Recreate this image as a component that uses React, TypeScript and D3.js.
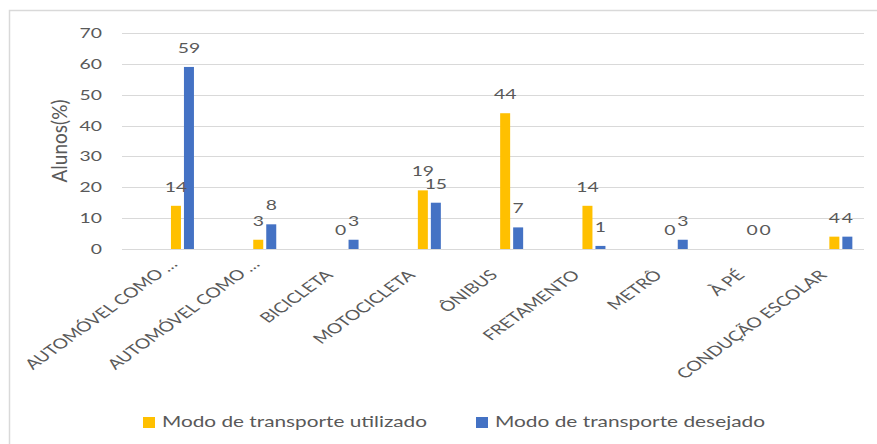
import React from "react";
import * as d3 from "d3";

const categories = [
  "AUTOMÓVEL COMO …",
  "AUTOMÓVEL COMO …",
  "BICICLETA",
  "MOTOCICLETA",
  "ÔNIBUS",
  "FRETAMENTO",
  "METRÔ",
  "À PÉ",
  "CONDUÇÃO ESCOLAR",
];
const utilizado = [14, 3, 0, 19, 44, 14, 0, 0, 4];
const desejado = [59, 8, 3, 15, 7, 1, 3, 0, 4];
const yTicks = [0, 10, 20, 30, 40, 50, 60, 70];
const seriesNames = ["Modo de transporte utilizado", "Modo de transporte desejado"];
const seriesColors = ["#FFC000", "#4472C4"];

const W = 877;
const H = 444;
const SX = 1.38; // horizontal stretch of the reference rendering
const FONT = "Lato, 'Open Sans', sans-serif";
const TXT = "#595959";
const GRID = "#d9d9d9";

export default function App() {
  const y = d3.scaleLinear().domain([0, 70]).range([249, 33]);
  const x = d3.scaleBand<number>().domain(d3.range(categories.length)).range([141.3, 882]).padding(0);
  const gridX0 = 122;
  const gridX1 = 864;
  const barW = 10;
  const gap = 3;
  const series = [utilizado, desejado];

  return (
    <svg width={W} height={H} style={{ position: "absolute", left: 0, top: 0, background: "#fff" }} fontFamily={FONT}>
      <rect x={0} y={0} width={W} height={H} fill="#fff" />
      {/* chart frame */}
      <rect x={9.5} y={10.5} width={W + 20} height={H + 20} fill="none" stroke={GRID} strokeWidth={1.5} />
      {/* gridlines */}
      {yTicks.map((t) => (
        <line key={t} x1={gridX0} x2={gridX1} y1={Math.round(y(t)) + 0.5} y2={Math.round(y(t)) + 0.5} stroke={GRID} strokeWidth={1} />
      ))}
      {/* y tick labels */}
      {yTicks.map((t) => (
        <text key={"t" + t} transform={`translate(102,${y(t) + 5}) scale(${SX},1)`} textAnchor="end" fontSize={14} fill={TXT}>
          {t}
        </text>
      ))}
      {/* y title */}
      <text transform={`translate(67,141) scale(${SX},1) rotate(-90)`} textAnchor="middle" fontSize={15} fill={TXT} textLength={83} lengthAdjust="spacingAndGlyphs">
        Alunos(%)
      </text>
      {/* bars */}
      {series.map((s, si) =>
        s.map((v, i) => {
          const c = (x(i) as number) + x.bandwidth() / 2;
          const bx = si === 0 ? c - gap / 2 - barW : c + gap / 2;
          return <rect key={si + "-" + i} x={bx} y={y(v)} width={barW} height={y(0) - y(v)} fill={seriesColors[si]} />;
        })
      )}
      {/* data labels */}
      {series.map((s, si) =>
        s.map((v, i) => {
          const c = (x(i) as number) + x.bandwidth() / 2;
          const lx = si === 0 ? c - gap / 2 - barW / 2 : c + gap / 2 + barW / 2;
          return (
            <text key={"l" + si + "-" + i} transform={`translate(${lx},${y(v) - 14}) scale(${SX},1)`} textAnchor="middle" fontSize={14} fill={TXT}>
              {v}
            </text>
          );
        })
      )}
      {/* category labels */}
      {categories.map((cat, i) => {
        const c = (x(i) as number) + x.bandwidth() / 2;
        const truncated = cat.endsWith("…");
        const px = truncated ? c - 4 : c - 13;
        const py = truncated ? 265 : 276;
        return (
          <text key={"c" + i} transform={`translate(${px},${py}) scale(${SX},1) rotate(-45)`} textAnchor="end" fontSize={14} fill={TXT}>
            {cat}
          </text>
        );
      })}
      {/* legend */}
      <rect x={143} y={417} width={12} height={11} fill={seriesColors[0]} />
      <text x={162} y={427} fontSize={15} fill={TXT} textLength={265} lengthAdjust="spacingAndGlyphs">
        {seriesNames[0]}
      </text>
      <rect x={476} y={417} width={12} height={11} fill={seriesColors[1]} />
      <text x={495} y={427} fontSize={15} fill={TXT} textLength={270} lengthAdjust="spacingAndGlyphs">
        {seriesNames[1]}
      </text>
    </svg>
  );
}
